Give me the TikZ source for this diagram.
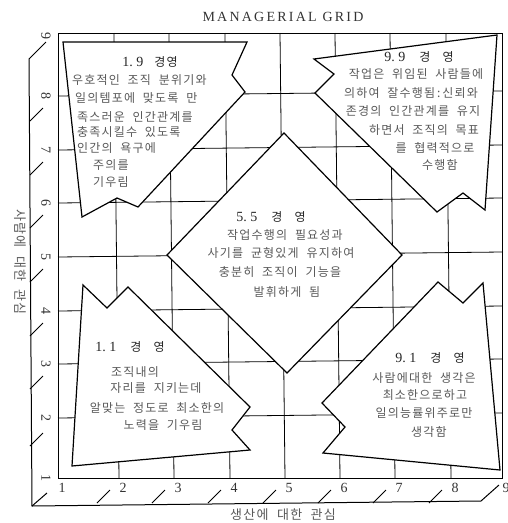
\documentclass[tikz,border=0pt]{standalone}
\usepackage{fontspec}
\setmainfont{Liberation Serif}
\newfontfamily\kor[LetterSpace=10,WordSpace=2]{Noto Sans CJK KR}
\newfontfamily\ttl[LetterSpace=16]{Liberation Serif}
\tikzset{
  gridline/.style={line width=0.8pt},
  frame/.style={line width=1pt},
  panel/.style={draw, fill=white, line width=1.2pt, line join=miter},
  txt/.style={font=\kor\fontsize{12}{13}\selectfont, text=black!65, inner sep=0pt},
  axlab/.style={font=\kor\fontsize{13}{14}\selectfont, text=black!65, inner sep=0pt},
  head/.style={font=\fontsize{14}{14}\selectfont, text=black!85, inner sep=0pt},
  num/.style={font=\fontsize{14}{14}\selectfont, text=black!80, inner sep=0pt},
}
\begin{document}
\begin{tikzpicture}[x=1pt,y=-1pt]
\useasboundingbox (0,0) rectangle (508,523);
% grid
\foreach \x in {119,174,230,285,340,395,451} {
  \draw[gridline] (\x-5,33) -- (\x,478);
}
\foreach \y in {96,150,203,257,311,364,418} {
  \draw[gridline] (58,\y) -- (502,\y-5);
}
\draw[frame] (58,33) rectangle (502,478);
% base plate
\draw[frame] (46,42) -- (29,59) -- (32,506) -- (481,501) -- (499,485);
\foreach \x in {97,152,208,263,318,373,429} {
  \draw[frame] (\x,503) -- ++(13,-13);
}
\draw[frame] (32,506) -- ++(15,-13);
\foreach \y in {121,175,228,282,336,389,446} {
  \draw[frame] (30,\y) -- ++(13,-13);
}
% scale numbers
\foreach \x [count=\n] in {58,119,174,230,285,340,395,451,502} {
  \node[num] (bx\n) at (\x+4,488) {\n};
}
\foreach \y [count=\n] in {478,418,364,311,257,203,150,96,36} {
  \node[num,rotate=-90] (ly\n) at (46,\y) {\n};
}
% titles
\node[font=\ttl\fontsize{14}{14}\selectfont, text=black!80] (title) at (283,17) {MANAGERIAL GRID};
\node[axlab] (xlab) at (283,515) {생산에 대한 관심};
\node[axlab,rotate=-90] (ylab) at (20,262) {사람에 대한 관심};
% panels
\filldraw[panel] (63,42) -- (247,42) -- (232,75) -- (245,92) -- (138,207) -- (117,198) -- (82,217) -- cycle;
\filldraw[panel] (314,59) -- (497,35) -- (485,210) -- (463,193) -- (437,212) -- (315,93) -- (334,74) -- cycle;
\filldraw[panel] (284,133) -- (402,255) -- (287,373) -- (167,255) -- cycle;
\filldraw[panel] (83,285) -- (107,308) -- (128,287) -- (250,407) -- (232,430) -- (250,450) -- (72,466) -- cycle;
\filldraw[panel] (438,282) -- (463,303) -- (483,283) -- (500,470) -- (323,453) -- (345,427) -- (322,403) -- cycle;
% 1.9
\node[head] (h19) at (150,62) {1.~9\hspace{0.8em}{\kor\fontsize{12}{13}\selectfont 경영}};
\foreach \x/\y/\s [count=\k] in {72/80/{우호적인 조직 분위기와},75/98/{일의템포에 맞도록 만},
  77/117/{족스러운 인간관계를},77/132/{충족시킬수 있도록},77/148/{인간의 욕구에},
  93/165/{주의를},93/182/{기우림}} {
  \node[txt,anchor=west] (a\k) at (\x,\y) {\s};
}
% 9.9
\node[head] (h99) at (419,57) {9.~9\hspace{1em}{\kor\fontsize{12}{13}\selectfont 경\hspace{1em}영}};
\foreach \x/\y/\s [count=\k] in {416/74/{작업은 위임된 사람들에},411/93/{의하여 잘수행됨\,:\,신뢰와},
  413/111/{존경의 인간관계를 유지},424/130/{하면서 조직의 목표},435/148/{를 협력적으로},
  440/165/{수행함}} {
  \node[txt] (b\k) at (\x,\y) {\s};
}
% 5.5
\node[head] (h55) at (271,217) {5.~5\hspace{1em}{\kor\fontsize{12}{13}\selectfont 경\hspace{1em}영}};
\foreach \x/\y/\s [count=\k] in {285/235/{작업수행의 필요성과},281/253/{사기를 균형있게 유지하여},
  280/272/{충분히 조직이 기능을},287/292/{발휘하게 됨}} {
  \node[txt] (c\k) at (\x,\y) {\s};
}
% 1.1
\node[head] (h11) at (130,347) {1.~1\hspace{1em}{\kor\fontsize{12}{13}\selectfont 경\hspace{1em}영}};
\foreach \x/\y/\s [count=\k] in {135/372/{조직내의},156/388/{자리를 지키는데},
  157/408/{알맞는 정도로 최소한의},163/425/{노력을 기우림}} {
  \node[txt] (d\k) at (\x,\y) {\s};
}
% 9.1
\node[head] (h91) at (430,358) {9.~1\hspace{1em}{\kor\fontsize{12}{13}\selectfont 경\hspace{1em}영}};
\foreach \x/\y/\s [count=\k] in {424/378/{사람에대한 생각은},425/395/{최소한으로하고},
  424/413/{일의능률위주로만},429/432/{생각함}} {
  \node[txt] (e\k) at (\x,\y) {\s};
}
\end{tikzpicture}
\end{document}
